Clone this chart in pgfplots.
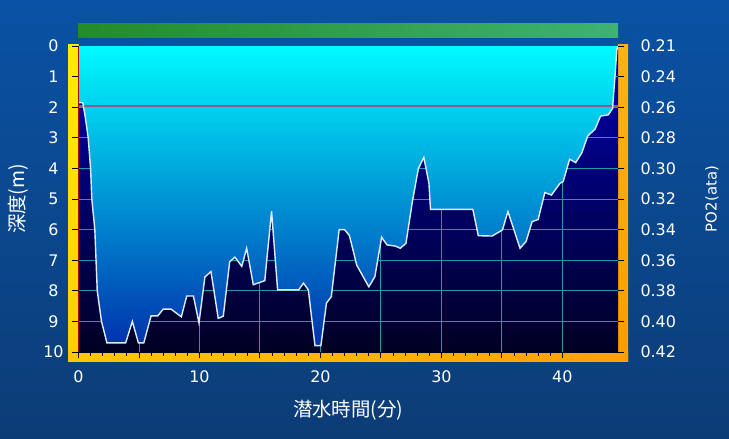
\documentclass[border=0pt]{standalone}
\usepackage{pgfplots}
\pgfplotsset{compat=1.18}
\usepackage{pgfplotstable}
\usepackage{fontspec}
\setmainfont{DejaVu Sans}
\newfontfamily\cjk{Noto Sans CJK JP}

\definecolor{bgtop}{RGB}{10,82,165}
\definecolor{bgbot}{RGB}{12,60,118}
\definecolor{greenL}{RGB}{35,140,40}
\definecolor{greenR}{RGB}{62,178,112}
\definecolor{yelT}{RGB}{255,236,0}
\definecolor{yelB}{RGB}{255,205,0}
\definecolor{oraL}{RGB}{255,200,0}
\definecolor{oraR}{RGB}{255,160,0}
\definecolor{oraT}{RGB}{255,178,20}
\definecolor{oraB}{RGB}{255,155,0}
\definecolor{darkT}{RGB}{0,0,178}
\definecolor{darkB}{RGB}{0,0,35}
\definecolor{lightT}{RGB}{0,250,255}
\definecolor{lightM}{RGB}{0,150,215}
\definecolor{lightB}{RGB}{0,50,172}
\definecolor{gridc}{RGB}{30,155,170}
\definecolor{redline}{RGB}{140,90,130}
\definecolor{profline}{RGB}{225,235,255}

\pgfplotstableread{
t d
0 1.85
0.35 1.85
0.55 2.3
0.8 3.0
1.0 4.0
1.1 5.0
1.35 6.0
1.45 7.0
1.55 8.0
1.9 9.0
2.35 9.7
3.9 9.7
4.45 9.0
4.95 9.7
5.4 9.7
6.0 8.82
6.55 8.82
7.0 8.6
7.65 8.6
8.5 8.85
8.95 8.17
9.5 8.17
9.96 9.05
10.45 7.55
10.95 7.37
11.55 8.9
11.97 8.83
12.5 7.05
12.93 6.9
13.5 7.2
13.9 6.61
14.45 7.8
15.4 7.67
15.96 5.4
16.46 7.97
18.2 7.97
18.6 7.75
19.0 7.97
19.55 9.79
20.04 9.79
20.5 8.4
20.9 8.19
21.55 6.0
22.0 6.0
22.4 6.2
23.0 7.16
24.0 7.87
24.5 7.54
25.06 6.25
25.5 6.5
26.2 6.54
26.6 6.61
27.07 6.45
27.6 5.09
28.1 4.0
28.55 3.64
28.97 4.49
29.1 5.34
32.6 5.34
33.05 6.2
34.2 6.21
34.8 6.07
35.05 6.01
35.5 5.41
36.5 6.61
37.0 6.39
37.5 5.74
38.0 5.67
38.55 4.79
39.1 4.87
39.8 4.49
40.07 4.43
40.6 3.70
41.1 3.81
41.6 3.5
42.1 2.94
42.7 2.72
43.16 2.29
43.8 2.25
44.15 2.04
44.35 1.0
44.5 0.13
44.6 0.0
}\profile

\begin{document}
\begin{tikzpicture}
\fill[top color=bgtop, bottom color=bgbot] (0bp,0bp) rectangle (729bp,439bp);
\fill[left color=greenL, right color=greenR] (78bp,401bp) rectangle (618bp,415bp);
\fill[top color=yelT, bottom color=yelB] (68bp,77bp) rectangle (78.5bp,394bp);
\fill[top color=oraT, bottom color=oraB] (618bp,77bp) rectangle (628bp,394bp);
\fill[left color=oraL, right color=oraR] (68bp,77bp) rectangle (628bp,87bp);

\begin{axis}[
  at={(78.5bp,87bp)}, anchor=south west,
  scale only axis, width=539.5bp, height=306bp,
  xmin=0, xmax=44.6, ymin=0, ymax=10,
  y dir=reverse,
  axis background/.style={top color=darkT, bottom color=darkB},
  axis line style={draw=none},
  xtick={0,5,...,40},
  xticklabels={0,,10,,20,,30,,40},
  minor x tick num=4,
  ytick={0,1,...,10},
  tick align=outside,
  major tick length=6bp, minor tick length=3.5bp,
  tick style={black, line width=0.9bp},
  xtick pos=left,
  ytick pos=left,
  ticklabel style={font=\fontsize{16}{16}\selectfont, text=white},
  yticklabel style={anchor=center, xshift=-19bp},
  xticklabel style={yshift=-9bp},
  /pgf/number format/assume math mode=true,
  xlabel={\cjk 潜水時間(分)},
  ylabel={\cjk 深度(m)},
  label style={font=\fontsize{19.5}{19.5}\selectfont, text=white},
  xlabel style={at={(axis description cs:0.5,-0.19)}, anchor=center},
  ylabel style={at={(axis description cs:-0.112,0.5)}, anchor=center, rotate=0},
]
\pgfplotsinvokeforeach{1,2,...,9}{
  \addplot[gridc, line width=0.9bp, forget plot] coordinates {(0,#1) (44.6,#1)};
}
\pgfplotsinvokeforeach{5,10,...,40}{
  \addplot[gridc, line width=0.9bp, forget plot] coordinates {(#1,0) (#1,10)};
}
\addplot[draw=none, top color=lightT, middle color=lightM, bottom color=lightB] table[x=t,y=d] {\profile} \closedcycle;
\addplot[redline, line width=1.7bp] coordinates {(0,1.95) (44.6,1.95)};
\addplot[profline, line width=1.4bp] table[x=t,y=d] {\profile};
\end{axis}

\begin{axis}[
  at={(78.5bp,87bp)}, anchor=south west,
  scale only axis, width=539.5bp, height=306bp,
  xmin=0, xmax=44.6, ymin=0, ymax=10,
  y dir=reverse,
  hide x axis,
  axis line style={draw=none},
  ytick={0,1,...,10},
  yticklabels={0.21,0.24,0.26,0.28,0.30,0.32,0.34,0.36,0.38,0.40,0.42},
  ytick pos=right,
  tick align=outside,
  major tick length=6bp,
  tick style={black, line width=0.9bp},
  yticklabel style={font=\fontsize{16}{16}\selectfont, text=white, anchor=west, xshift=13bp},
  ylabel={PO2(ata)},
  ylabel style={font=\fontsize{15}{15}\selectfont, text=white, at={(axis description cs:1.174,0.5)}, anchor=center, rotate=0},
]
\end{axis}
\draw[red!65!black, line width=1.6bp] (78.5bp,87bp) -- (78.5bp,393bp);
\pgfresetboundingbox
\useasboundingbox (0bp,0bp) rectangle (729bp,439bp);
\end{tikzpicture}
\end{document}
